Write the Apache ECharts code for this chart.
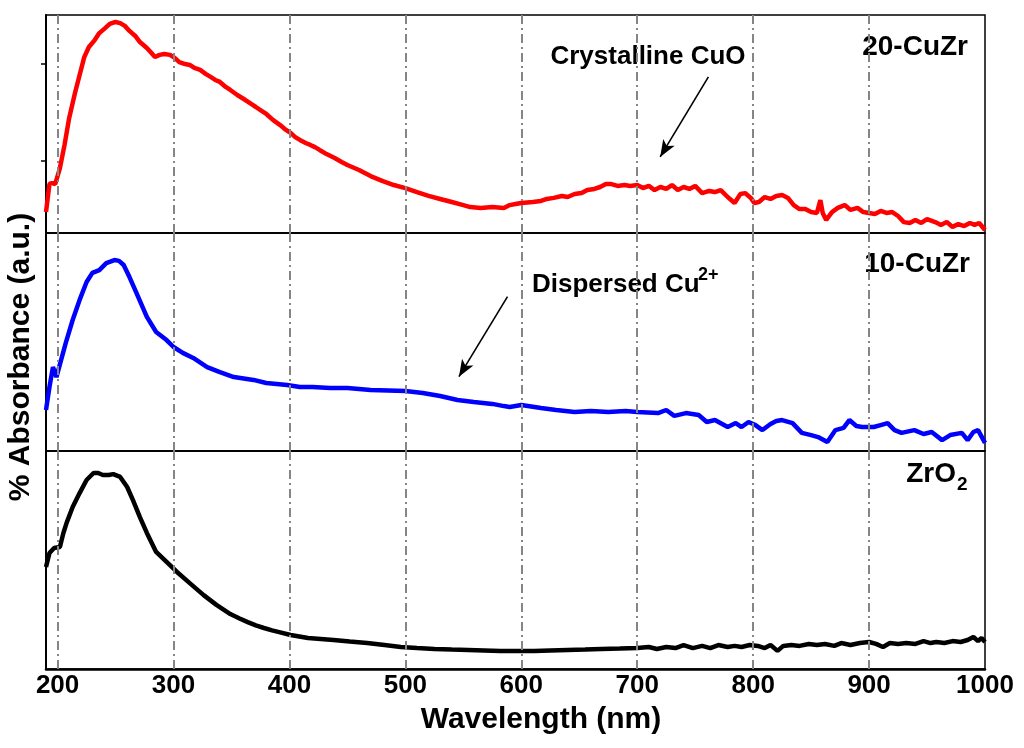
<!DOCTYPE html>
<html>
<head>
<meta charset="utf-8">
<script src="https://cdn.jsdelivr.net/npm/echarts@6/dist/echarts.min.js"></script>
<style>
html,body{margin:0;padding:0;background:#fff;}
#chart{width:1024px;height:748px;}
</style>
</head>
<body>
<div id="chart"></div>
<script>
// ---- data (wavelength in nm, absorbance in arbitrary units per panel 0-100) ----
const xTickLabels = [200, 300, 400, 500, 600, 700, 800, 900, 1000];
const gridWavelengths = [200, 300, 400, 500, 600, 700, 800, 900];

const wlRed = [190,193,195,198,202,206,210,215,219,223,227,232,236,241,245,250,254,258,262,267,271,277,281,284,288,292,297,301,305,310,314,318,323,328,332,336,340,345,349,355,362,367,371,376,380,386,392,396,401,405,409,414,418,422,426,432,439,445,450,460,470,480,490,500,510,520,530,540,550,556,565,575,585,590,595,600,610,617,622,628,635,640,646,652,657,663,668,673,677,683,689,694,
  700,705,710,715,720,725,730,735,740,745,750,756,762,767,772,778,784,789,793,798,801,805,810,815,820,825,830,835,840,845,850,855,858,860,863,868,873,879,884,890,895,900,905,910,915,920,925,930,935,940,945,950,957,962,967,972,977,982,987,991,995,1000];
const absRed = [9.6,22.5,22.9,22.5,29.8,40.4,52.8,64.2,72.5,80.7,85.3,88.5,91.7,94.0,95.9,96.8,96.3,95.0,92.7,90.4,87.6,84.9,82.6,80.7,81.7,82.1,81.7,80.3,78.4,77.5,77.1,75.7,74.8,72.9,71.6,70.2,69.3,67.0,65.6,63.3,61.0,59.2,57.8,56.0,54.6,51.8,49.5,47.7,45.9,44.0,42.7,41.3,40.4,39.4,38.1,36.2,34.4,32.6,31.2,28.9,26.1,23.9,22.0,20.6,18.8,17.0,15.6,14.2,12.8,11.9,11.5,11.9,11.5,12.8,13.3,13.8,14.2,14.7,15.6,16.1,17.0,16.5,17.9,18.3,19.7,20.2,21.1,22.5,22.5,21.6,22.0,21.6,
  22.0,20.6,21.6,19.7,21.1,20.2,22.0,19.7,21.1,20.2,21.6,18.3,19.3,18.8,19.7,16.5,13.8,17.9,18.3,16.1,13.8,14.2,16.5,15.6,17.0,17.4,16.1,12.8,11.0,11.0,9.6,9.2,15.1,9.2,6.0,9.6,11.5,12.8,10.6,11.5,9.6,9.2,8.7,10.1,9.2,9.6,7.8,5.0,4.6,6.0,4.6,6.4,5.0,3.7,5.0,2.8,4.1,3.2,4.6,3.7,4.6,1.4];

const wlBlue = [190,193,196,199,203,207,213,219,225,230,236,242,249,253,257,262,268,277,285,294,300,308,317,329,340,352,369,380,398,409,420,435,450,470,485,500,515,530,545,559,575,585,590,600,617,630,646,660,675,690,700,718,725,732,742,753,760,767,778,785,790,796,802,808,815,820,825,834,842,850,856,864,871,878,883,889,894,904,910,916,922,928,939,947,954,963,970,980,985,990,994,1000];
const absBlue = [18.8,29.4,38.5,33.9,41.7,49.5,60.1,69.3,77.5,81.7,83.0,86.2,87.6,87.2,85.3,79.8,72.5,61.5,54.6,50.9,47.7,45.0,42.7,38.5,36.2,33.9,32.6,31.2,30.3,29.4,29.4,28.9,28.9,28.0,27.8,27.5,26.6,25.2,23.4,22.5,21.6,20.6,20.2,21.1,19.7,18.8,17.9,18.3,17.9,18.3,17.9,17.4,18.8,16.1,17.4,16.5,13.3,14.2,11.0,12.8,11.0,13.3,11.9,9.6,12.4,13.8,14.2,12.8,8.3,7.3,6.4,4.1,9.6,10.6,14.2,11.5,11.0,11.0,11.9,12.8,9.6,8.3,9.6,7.8,8.7,5.0,7.3,8.3,5.0,8.7,9.6,3.7];

const wlBlack = [190,193,197,202,205,208,213,219,225,231,235,239,244,248,254,260,265,271,277,285,294,303,314,326,337,349,357,364,371,378,385,392,401,416,427,438,452,467,482,496,510,525,540,554,568,582,596,611,625,640,655,669,685,
  700,710,717,725,733,740,748,756,763,770,778,784,790,797,804,810,815,821,826,833,840,848,855,862,870,876,884,892,900,906,912,918,925,932,940,947,953,958,965,972,979,985,990,994,997,1000];
const absBlack = [46.8,53.2,55.5,56.0,62.4,67.4,74.3,80.7,86.7,89.9,89.9,89.0,89.0,89.4,88.1,83.5,77.5,69.7,62.4,53.7,49.1,44.5,39.4,33.9,29.4,25.2,23.2,21.5,20.0,18.8,17.7,16.8,15.6,14.2,13.8,13.3,12.6,11.9,11.0,10.1,9.6,9.2,8.9,8.7,8.5,8.3,8.3,8.3,8.5,8.7,8.9,9.2,9.4,
  9.6,10.1,9.2,10.1,9.6,11.0,9.6,10.6,9.6,11.0,10.1,10.6,10.1,11.0,10.6,9.6,11.0,8.3,10.6,11.0,10.6,11.5,11.0,11.5,10.6,11.9,11.0,11.9,12.4,11.5,10.1,11.9,11.5,11.9,11.5,12.8,11.9,12.4,11.9,12.8,12.4,13.3,14.7,12.8,14.2,12.4];

const panelNames = ['20-CuZr', '10-CuZr', 'ZrO'];
const topTickValues = [33.2, 77.8];

function zip(a, b) { return a.map((v, i) => [v, b[i]]); }

const FONT = "'Liberation Sans', Arial, sans-serif";
const tops = [15, 233, 451];
const H = 218;

const grids = tops.map(t => ({
  left: 46, right: 39, top: t, height: H,
  show: true, borderColor: '#000', borderWidth: 1.5, backgroundColor: 'transparent'
}));

const xAxes = tops.map((t, i) => ({
  type: 'value', gridIndex: i, min: 190, max: 1000,
  splitLine: { show: false },
  axisLine: { show: true, onZero: false, lineStyle: { color: '#000', width: i === 2 ? 2.5 : 1.5 } },
  axisTick: { show: false },
  axisLabel: i === 2 ? {
    show: true, customValues: xTickLabels, margin: 4,
    formatter: v => String(v),
    color: '#000', fontSize: 26, fontWeight: 'bold', fontFamily: FONT
  } : { show: false }
}));

const yAxes = tops.map((t, i) => ({
  type: 'value', gridIndex: i, min: 0, max: 100,
  splitLine: { show: false },
  axisLine: { show: true, lineStyle: { color: '#000', width: 2 } },
  axisTick: i === 0 ? { show: true, customValues: topTickValues, inside: false, length: 5, lineStyle: { color: '#000', width: 1.5 } } : { show: false },
  axisLabel: { show: false }
}));

const gridLineSeries = tops.map((t, i) => ({
  type: 'line', xAxisIndex: i, yAxisIndex: i, data: [], z: 1, silent: true,
  markLine: {
    silent: true, symbol: 'none', animation: false,
    label: { show: false },
    lineStyle: { color: '#858585', width: 2, type: [9, 4, 2, 4] },
    data: gridWavelengths.map(v => ({ xAxis: v }))
  }
}));

const arrowStyle = { color: '#000', width: 1.6, type: 'solid' };
function arrow(from, to) {
  return [
    { coord: from, symbol: 'none', symbolSize: 0 },
    { coord: to, symbol: 'arrow', symbolSize: [10, 17] }
  ];
}

const option = {
  animation: false,
  backgroundColor: '#fff',
  grid: grids,
  xAxis: xAxes,
  yAxis: yAxes,
  series: [
    ...gridLineSeries,
    {
      name: '20-CuZr', type: 'line', xAxisIndex: 0, yAxisIndex: 0, z: 3,
      data: zip(wlRed, absRed), showSymbol: false,
      lineStyle: { color: '#ff0000', width: 4.5 },
      markLine: {
        silent: true, animation: false,
        label: { show: false }, lineStyle: arrowStyle, itemStyle: { color: '#000' },
        data: [arrow([761.4, 71.6], [719.8, 34.9])]
      }
    },
    {
      name: '10-CuZr', type: 'line', xAxisIndex: 1, yAxisIndex: 1, z: 3,
      data: zip(wlBlue, absBlue), showSymbol: false,
      lineStyle: { color: '#0000ff', width: 4.5 },
      markLine: {
        silent: true, animation: false,
        label: { show: false }, lineStyle: arrowStyle, itemStyle: { color: '#000' },
        data: [arrow([588.1, 70.8], [546.2, 34.1])]
      }
    },
    {
      name: 'ZrO2', type: 'line', xAxisIndex: 2, yAxisIndex: 2, z: 3,
      data: zip(wlBlack, absBlack), showSymbol: false,
      lineStyle: { color: '#000000', width: 4.5 }
    }
  ],
  graphic: [
    { type: 'text', x: 968, y: 47, style: { text: panelNames[0], fill: '#000', font: 'bold 28px ' + FONT, textAlign: 'right', textVerticalAlign: 'middle' } },
    { type: 'text', x: 970, y: 264, style: { text: panelNames[1], fill: '#000', font: 'bold 28px ' + FONT, textAlign: 'right', textVerticalAlign: 'middle' } },
    { type: 'text', x: 956, y: 474, style: { text: panelNames[2], fill: '#000', font: 'bold 28px ' + FONT, textAlign: 'right', textVerticalAlign: 'middle' } },
    { type: 'text', x: 957, y: 485, style: { text: '2', fill: '#000', font: 'bold 19px ' + FONT, textAlign: 'left', textVerticalAlign: 'middle' } },
    { type: 'text', x: 648, y: 57, style: { text: 'Crystalline CuO', fill: '#000', font: 'bold 26px ' + FONT, textAlign: 'center', textVerticalAlign: 'middle' } },
    { type: 'text', x: 532, y: 285, style: { text: 'Dispersed Cu', fill: '#000', font: 'bold 26px ' + FONT, textAlign: 'left', textVerticalAlign: 'middle' } },
    { type: 'text', x: 698, y: 275, style: { text: '2+', fill: '#000', font: 'bold 18px ' + FONT, textAlign: 'left', textVerticalAlign: 'middle' } },
    { type: 'text', x: 541, y: 720, style: { text: 'Wavelength (nm)', fill: '#000', font: 'bold 30px ' + FONT, textAlign: 'center', textVerticalAlign: 'middle' } },
    { type: 'text', x: 21, y: 357, rotation: Math.PI / 2, style: { text: '% Absorbance (a.u.)', fill: '#000', font: 'bold 30px ' + FONT, textAlign: 'center', textVerticalAlign: 'middle' } }
  ]
};

const chart = echarts.init(document.getElementById('chart'), null, { renderer: 'canvas' });
chart.setOption(option);
</script>
</body>
</html>
